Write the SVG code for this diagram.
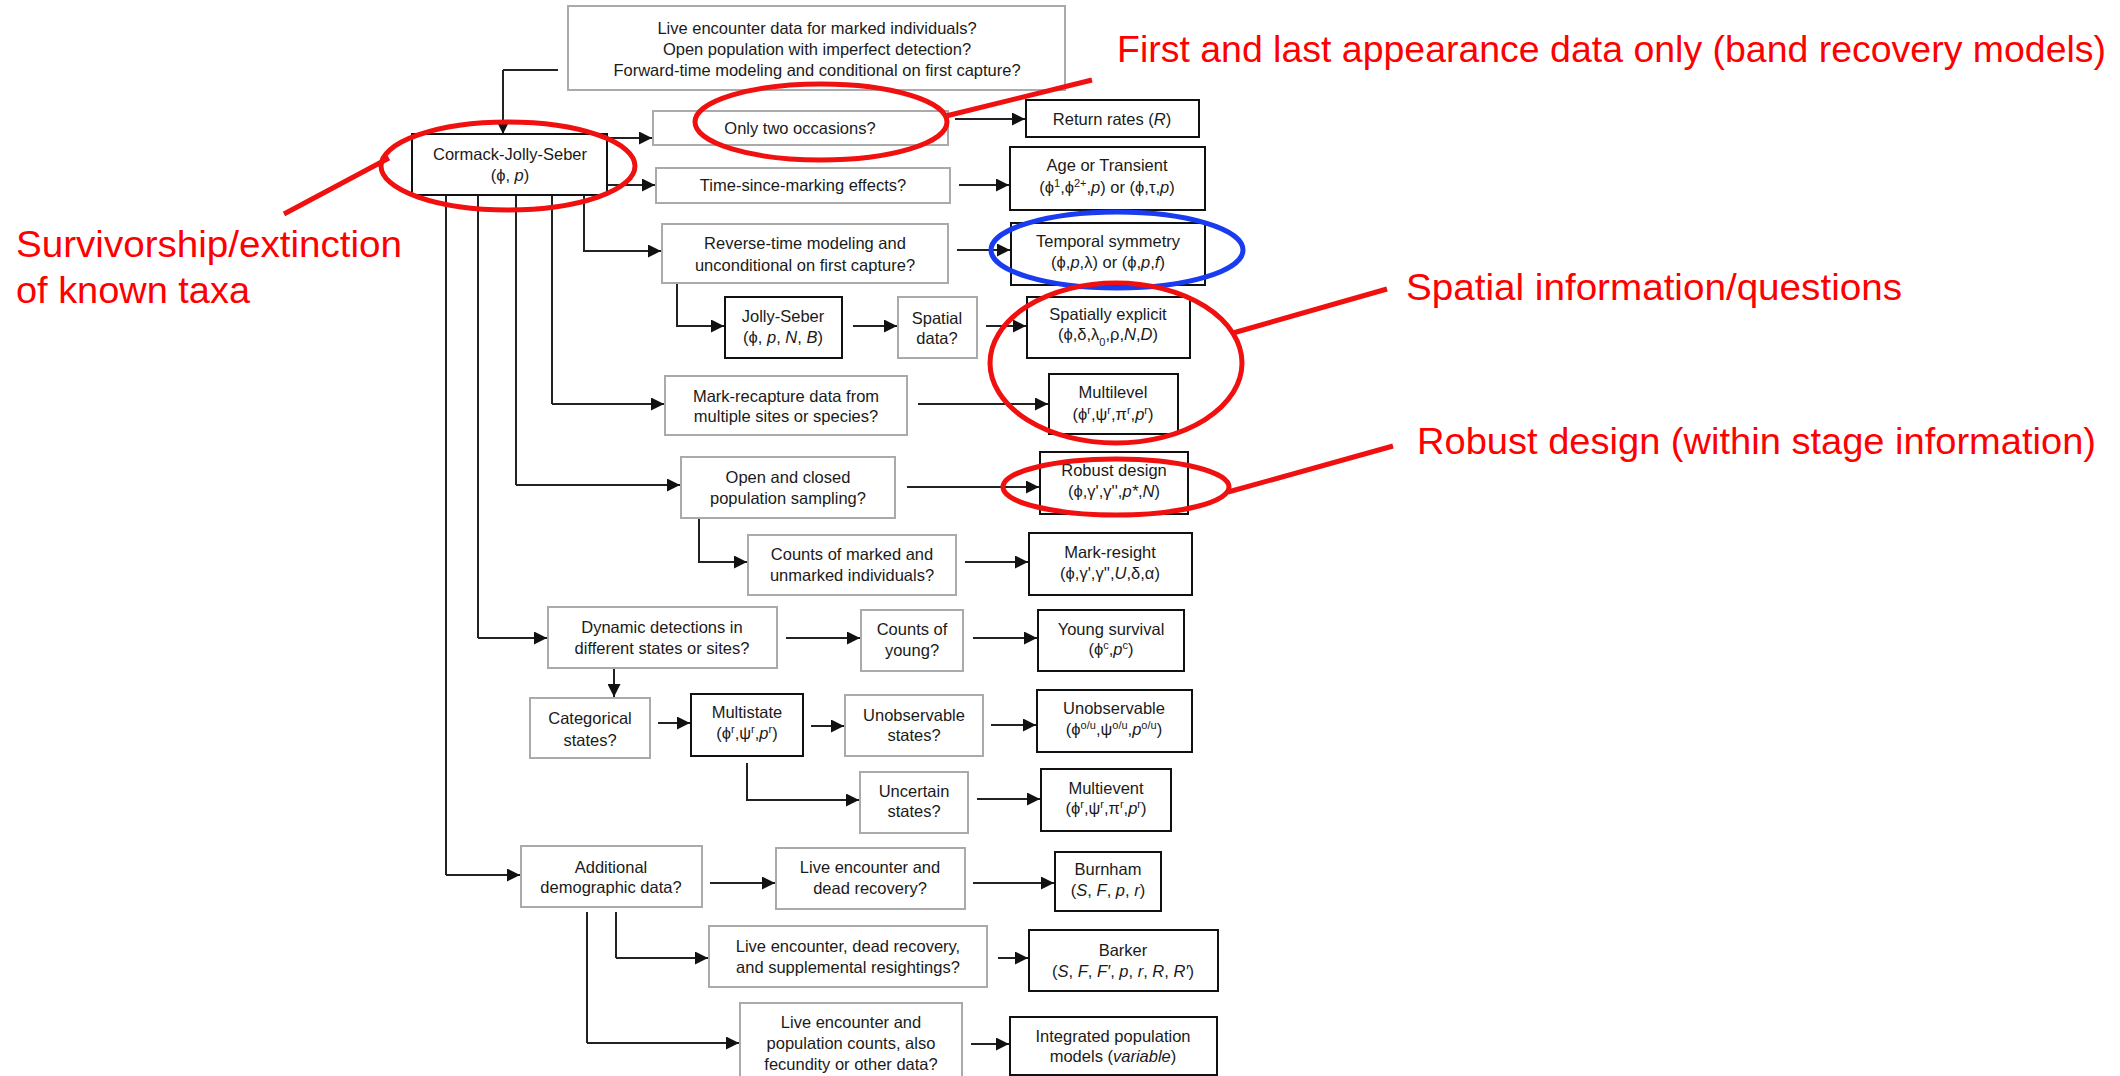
<svg xmlns="http://www.w3.org/2000/svg" width="2120" height="1076" viewBox="0 0 2120 1076">
<defs>
<marker id="ah" viewBox="0 0 10 10" refX="10" refY="5" markerWidth="13" markerHeight="13" markerUnits="userSpaceOnUse" orient="auto"><path d="M0,0 L10,5 L0,10 z" fill="#111"/></marker>
<style>
.q{fill:#fff;stroke:#aaa;stroke-width:2}
.m{fill:#fff;stroke:#111;stroke-width:2}
text{font-family:"Liberation Sans",Arial,sans-serif;font-size:16.5px;fill:#1a1a1a;text-anchor:middle}
.i{font-style:italic}
.sup{font-size:11px;baseline-shift:super}
.sub{font-size:11px;baseline-shift:sub}
.c path{fill:none;stroke:#222;stroke-width:2;marker-end:url(#ah)}
.c path.n{marker-end:none}
.red{fill:none;stroke:#f01010;stroke-width:5}
.blue{fill:none;stroke:#1a3cf0;stroke-width:5}
.ann{font-family:"Liberation Sans",Arial,sans-serif;font-size:36px;fill:#ff0000;text-anchor:start}
</style>
</defs>
<rect width="2120" height="1076" fill="#fff"/>

<g id="connectors" class="c">
<path class="n" d="M558,70 H503"/>
<path d="M503,70 V134"/>
<path d="M608,138 H652"/>
<path d="M608,185 H655"/>
<path d="M955,119 H1025"/>
<path d="M959,185 H1009"/>
<path class="n" d="M446,195 V875"/>
<path class="n" d="M478,195 V638"/>
<path class="n" d="M516,195 V485"/>
<path class="n" d="M552,195 V404"/>
<path d="M584,195 V251 H661"/>
<path d="M957,250 H1010"/>
<path d="M677,283 V326 H724"/>
<path d="M853,326 H897"/>
<path d="M986,326 H1026"/>
<path d="M552,404 H664"/>
<path d="M918,404 H1048"/>
<path d="M516,485 H680"/>
<path d="M907,487 H1039"/>
<path d="M699,518 V562 H747"/>
<path d="M965,562 H1028"/>
<path d="M478,638 H547"/>
<path d="M786,638 H860"/>
<path d="M973,638 H1037"/>
<path d="M614,668 V697"/>
<path d="M658,723 H690"/>
<path d="M811,726 H844"/>
<path d="M991,725 H1036"/>
<path d="M747,763 V800 H859"/>
<path d="M977,799 H1040"/>
<path d="M446,875 H520"/>
<path d="M710,883 H775"/>
<path d="M973,883 H1054"/>
<path class="n" d="M616,912 V958"/>
<path d="M616,958 H708"/>
<path class="n" d="M587,912 V1043"/>
<path d="M587,1043 H739"/>
<path d="M998,958 H1028"/>
<path d="M971,1044 H1009"/>
</g>

<g id="n-top"><rect class="q" x="568" y="6" width="497" height="84"/>
<text x="817" y="34">Live encounter data for marked individuals?</text>
<text x="817" y="55">Open population with imperfect detection?</text>
<text x="817" y="76">Forward-time modeling and conditional on first capture?</text></g>

<g id="n-cjs"><rect class="m" x="412" y="134" width="195" height="61"/>
<text x="510" y="160">Cormack-Jolly-Seber</text>
<text x="510" y="181">(ϕ, <tspan class="i">p</tspan>)</text></g>

<g id="n-two"><rect class="q" x="653" y="111" width="295" height="34"/>
<text x="800" y="134">Only two occasions?</text></g>

<g id="n-return"><rect class="m" x="1026" y="100" width="173" height="37"/>
<text x="1112" y="125">Return rates (<tspan class="i">R</tspan>)</text></g>

<g id="n-tsm"><rect class="q" x="656" y="168" width="294" height="35"/>
<text x="803" y="191">Time-since-marking effects?</text></g>

<g id="n-age"><rect class="m" x="1010" y="147" width="195" height="63"/>
<text x="1107" y="171">Age or Transient</text>
<text x="1107" y="193">(ϕ<tspan class="sup">1</tspan>,ϕ<tspan class="sup">2+</tspan>,<tspan class="i">p</tspan>) or (ϕ,τ,<tspan class="i">p</tspan>)</text></g>

<g id="n-reverse"><rect class="q" x="662" y="224" width="286" height="59"/>
<text x="805" y="249">Reverse-time modeling and</text>
<text x="805" y="271">unconditional on first capture?</text></g>

<g id="n-temporal"><rect class="m" x="1011" y="223" width="194" height="62"/>
<text x="1108" y="247">Temporal symmetry</text>
<text x="1108" y="268">(ϕ,<tspan class="i">p</tspan>,λ) or (ϕ,<tspan class="i">p</tspan>,<tspan class="i">f</tspan>)</text></g>

<g id="n-js"><rect class="m" x="725" y="297" width="117" height="61"/>
<text x="783" y="322">Jolly-Seber</text>
<text x="783" y="343">(ϕ, <tspan class="i">p</tspan>, <tspan class="i">N</tspan>, <tspan class="i">B</tspan>)</text></g>

<g id="n-spatialq"><rect class="q" x="898" y="297" width="79" height="61"/>
<text x="937" y="324">Spatial</text>
<text x="937" y="344">data?</text></g>

<g id="n-spatial"><rect class="m" x="1027" y="297" width="163" height="61"/>
<text x="1108" y="320">Spatially explicit</text>
<text x="1108" y="340">(ϕ,δ,λ<tspan class="sub">0</tspan>,ρ,<tspan class="i">N</tspan>,<tspan class="i">D</tspan>)</text></g>

<g id="n-markrecap"><rect class="q" x="665" y="376" width="242" height="59"/>
<text x="786" y="402">Mark-recapture data from</text>
<text x="786" y="422">multiple sites or species?</text></g>

<g id="n-multilevel"><rect class="m" x="1049" y="374" width="129" height="60"/>
<text x="1113" y="398">Multilevel</text>
<text x="1113" y="420">(ϕ<tspan class="sup">r</tspan>,ψ<tspan class="sup">r</tspan>,π<tspan class="sup">r</tspan>,<tspan class="i">p</tspan><tspan class="sup">r</tspan>)</text></g>

<g id="n-openclosed"><rect class="q" x="681" y="457" width="214" height="61"/>
<text x="788" y="483">Open and closed</text>
<text x="788" y="504">population sampling?</text></g>

<g id="n-robust"><rect class="m" x="1040" y="452" width="148" height="62"/>
<text x="1114" y="476">Robust design</text>
<text x="1114" y="497">(ϕ,γ',γ'',<tspan class="i">p*</tspan>,<tspan class="i">N</tspan>)</text></g>

<g id="n-countsmarked"><rect class="q" x="748" y="535" width="208" height="60"/>
<text x="852" y="560">Counts of marked and</text>
<text x="852" y="581">unmarked individuals?</text></g>

<g id="n-resight"><rect class="m" x="1029" y="533" width="163" height="62"/>
<text x="1110" y="558">Mark-resight</text>
<text x="1110" y="579">(ϕ,γ',γ'',<tspan class="i">U</tspan>,δ,α)</text></g>

<g id="n-dynamic"><rect class="q" x="548" y="607" width="229" height="61"/>
<text x="662" y="633">Dynamic detections in</text>
<text x="662" y="654">different states or sites?</text></g>

<g id="n-young"><rect class="q" x="861" y="610" width="102" height="61"/>
<text x="912" y="635">Counts of</text>
<text x="912" y="656">young?</text></g>

<g id="n-youngsurv"><rect class="m" x="1038" y="610" width="146" height="61"/>
<text x="1111" y="635">Young survival</text>
<text x="1111" y="655">(ϕ<tspan class="sup">c</tspan>,<tspan class="i">p</tspan><tspan class="sup">c</tspan>)</text></g>

<g id="n-categorical"><rect class="q" x="530" y="698" width="120" height="60"/>
<text x="590" y="724">Categorical</text>
<text x="590" y="746">states?</text></g>

<g id="n-multistate"><rect class="m" x="691" y="694" width="112" height="62"/>
<text x="747" y="718">Multistate</text>
<text x="747" y="739">(ϕ<tspan class="sup">r</tspan>,ψ<tspan class="sup">r</tspan>,<tspan class="i">p</tspan><tspan class="sup">r</tspan>)</text></g>

<g id="n-unobsq"><rect class="q" x="845" y="695" width="138" height="61"/>
<text x="914" y="721">Unobservable</text>
<text x="914" y="741">states?</text></g>

<g id="n-unobs"><rect class="m" x="1037" y="690" width="155" height="62"/>
<text x="1114" y="714">Unobservable</text>
<text x="1114" y="735">(ϕ<tspan class="sup">o/u</tspan>,ψ<tspan class="sup">o/u</tspan>,<tspan class="i">p</tspan><tspan class="sup">o/u</tspan>)</text></g>

<g id="n-uncertain"><rect class="q" x="860" y="772" width="108" height="61"/>
<text x="914" y="797">Uncertain</text>
<text x="914" y="817">states?</text></g>

<g id="n-multievent"><rect class="m" x="1041" y="769" width="130" height="62"/>
<text x="1106" y="794">Multievent</text>
<text x="1106" y="814">(ϕ<tspan class="sup">r</tspan>,ψ<tspan class="sup">r</tspan>,π<tspan class="sup">r</tspan>,<tspan class="i">p</tspan><tspan class="sup">r</tspan>)</text></g>

<g id="n-additional"><rect class="q" x="521" y="846" width="181" height="61"/>
<text x="611" y="873">Additional</text>
<text x="611" y="893">demographic data?</text></g>

<g id="n-livedead"><rect class="q" x="776" y="848" width="189" height="61"/>
<text x="870" y="873">Live encounter and</text>
<text x="870" y="894">dead recovery?</text></g>

<g id="n-burnham"><rect class="m" x="1055" y="852" width="106" height="59"/>
<text x="1108" y="875">Burnham</text>
<text x="1108" y="896">(<tspan class="i">S</tspan>, <tspan class="i">F</tspan>, <tspan class="i">p</tspan>, <tspan class="i">r</tspan>)</text></g>

<g id="n-livedeadres"><rect class="q" x="709" y="926" width="278" height="61"/>
<text x="848" y="952">Live encounter, dead recovery,</text>
<text x="848" y="973">and supplemental resightings?</text></g>

<g id="n-barker"><rect class="m" x="1029" y="930" width="189" height="61"/>
<text x="1123" y="956">Barker</text>
<text x="1123" y="977">(<tspan class="i">S</tspan>, <tspan class="i">F</tspan>, <tspan class="i">F′</tspan>, <tspan class="i">p</tspan>, <tspan class="i">r</tspan>, <tspan class="i">R</tspan>, <tspan class="i">R′</tspan>)</text></g>

<g id="n-livepop"><rect class="q" x="740" y="1003" width="222" height="74"/>
<text x="851" y="1028">Live encounter and</text>
<text x="851" y="1049">population counts, also</text>
<text x="851" y="1070">fecundity or other data?</text></g>

<g id="n-ipm"><rect class="m" x="1010" y="1017" width="207" height="58"/>
<text x="1113" y="1042">Integrated population</text>
<text x="1113" y="1062">models (<tspan class="i">variable</tspan>)</text></g>

<g id="annotations">
<ellipse class="red" cx="508" cy="166" rx="127" ry="44"/>
<ellipse class="red" cx="821" cy="122" rx="126" ry="38"/>
<ellipse class="blue" cx="1117" cy="250" rx="126" ry="38"/>
<ellipse class="red" cx="1116" cy="363" rx="126" ry="80"/>
<ellipse class="red" cx="1116" cy="487" rx="113" ry="28"/>
<path class="red" d="M284,214 L389,158"/>
<path class="red" d="M946,116 L1092,80"/>
<path class="red" d="M1233,333 L1387,289"/>
<path class="red" d="M1228,492 L1393,446"/>
<text class="ann" x="1117" y="62" textLength="989" lengthAdjust="spacingAndGlyphs">First and last appearance data only (band recovery models)</text>
<text class="ann" x="16" y="257" textLength="386" lengthAdjust="spacingAndGlyphs">Survivorship/extinction</text>
<text class="ann" x="16" y="303" textLength="234" lengthAdjust="spacingAndGlyphs">of known taxa</text>
<text class="ann" x="1406" y="300" textLength="496" lengthAdjust="spacingAndGlyphs">Spatial information/questions</text>
<text class="ann" x="1417" y="454" textLength="679" lengthAdjust="spacingAndGlyphs">Robust design (within stage information)</text>
</g>
</svg>
